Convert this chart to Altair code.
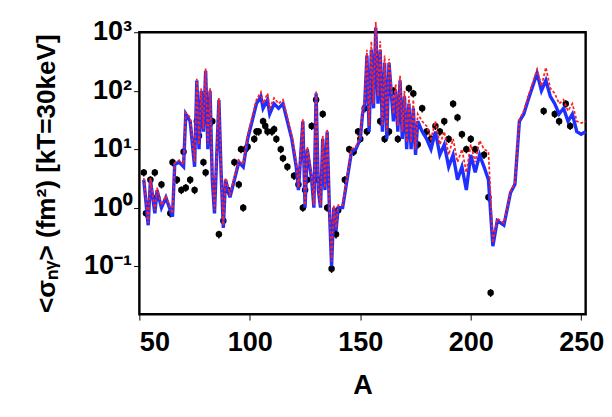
import altair as alt
import pandas as pd

# theory curves (blue solid, red dashed)
blue_A = [52, 54, 55, 57, 58, 60, 62, 65, 66, 68, 70, 71, 73, 75, 76, 77, 78, 79, 80, 81, 82, 83, 84, 86, 87, 88, 89, 91, 93, 95, 97, 99, 101, 103, 105, 106, 108, 109, 111, 113, 115, 117, 119, 121, 122, 124, 125, 126, 128, 129, 130, 131, 132, 133, 134, 135, 136, 137, 138, 139, 140, 142, 144, 146, 148, 150, 151, 152, 153, 154, 155, 156, 157, 158, 159, 160, 161, 162, 163, 165, 166, 167, 168, 169, 170, 171, 172, 173, 174, 175, 176, 178, 180, 182, 184, 186, 188, 190, 192, 194, 196, 198, 200, 202, 204, 206, 208, 210, 212, 215, 218, 220, 222, 224, 226, 230, 232, 234, 236, 238, 240, 242, 244, 246, 248, 250, 252]
blue_v = [3, 0.5, 3, 0.8, 2, 1, 1.5, 0.7, 5.5, 6, 5, 40, 30, 5, 150, 10, 100, 20, 220, 10, 100, 3, 0.8, 70, 4, 0.45, 3, 1.5, 3, 6, 5, 15, 30, 60, 80, 50, 70, 40, 60, 50, 60, 30, 15, 5, 2, 30, 1, 10, 3, 1, 90, 2, 1, 15, 2, 20, 1, 0.1, 1, 0.4, 1, 1, 3, 9, 10, 15, 40, 60, 400, 20, 500, 50, 1200, 60, 500, 20, 300, 15, 300, 30, 100, 20, 150, 15, 80, 10, 60, 10, 50, 8, 30, 20, 15, 10, 20, 8, 12, 5, 8, 3, 5, 2, 8, 4, 8, 5, 3, 0.22, 0.6, 0.5, 1.8, 2.5, 30, 40, 70, 200, 100, 150, 80, 60, 40, 50, 30, 40, 20, 18, 20]
red_v = [3.2, 0.55, 3.2, 0.9, 2.2, 1.1, 1.6, 0.8, 5.8, 6.5, 5.5, 42, 35, 6, 160, 12, 110, 22, 240, 12, 110, 3.5, 0.9, 75, 4.5, 0.5, 3.2, 1.7, 3.3, 6.5, 5.5, 17, 35, 70, 95, 60, 90, 50, 75, 60, 70, 35, 17, 6, 2.2, 33, 1.1, 11, 3.5, 1.1, 100, 2.2, 1.1, 17, 2.2, 22, 1.1, 0.12, 1.1, 0.45, 1.1, 1.1, 3.3, 10, 11, 17, 45, 70, 500, 25, 700, 60, 1500, 80, 700, 25, 400, 20, 350, 40, 130, 25, 180, 20, 100, 13, 80, 13, 70, 10, 40, 30, 25, 15, 30, 12, 20, 8, 15, 6, 10, 4, 12, 6, 14, 10, 9, 0.25, 0.65, 0.55, 1.9, 2.7, 32, 45, 80, 230, 120, 250, 110, 90, 60, 70, 45, 60, 30, 28, 30]

# experimental points
exp_A = [52, 53, 55, 57, 58, 60, 64, 65, 67, 69, 70, 71, 73, 75, 76, 77, 79, 80, 83, 86, 88, 90, 93, 95, 96, 97, 98, 99, 102, 103, 104, 106, 107, 108, 110, 111, 112, 114, 115, 117, 120, 122, 124, 125, 126, 128, 130, 131, 133, 135, 137, 139, 140, 143, 145, 147, 149, 150, 152, 153, 155, 157, 159, 161, 163, 165, 167, 168, 170, 172, 174, 176, 178, 180, 182, 184, 186, 188, 190, 192, 194, 196, 198, 200, 202, 206, 208, 209, 233, 238, 240, 243, 245]
exp_v = [4, 0.8, 3, 4, 1.5, 2.5, 0.8, 6, 3, 2, 9, 2.2, 3, 2, 30, 17, 6, 4, 30, 0.35, 0.6, 2, 6, 2.5, 10, 1, 10, 11, 15, 20, 20, 30, 25, 20, 20, 22, 15, 10, 7, 5, 3.5, 2.5, 1, 2, 3, 25, 70, 3, 40, 1, 0.09, 0.35, 0.9, 3, 10, 9, 20, 15, 50, 20, 100, 150, 30, 15, 20, 100, 15, 50, 30, 110, 90, 12, 50, 20, 15, 25, 20, 30, 15, 60, 35, 18, 10, 15, 10, 8, 1.5, 0.035, 45, 40, 30, 60, 25]

curves = pd.DataFrame({"A": blue_A, "blue": blue_v, "red": red_v})
exp = pd.DataFrame({"A": exp_A, "v": exp_v})
exp["lo"] = exp["v"] * 0.85
exp["hi"] = exp["v"] * 1.15

F = "Liberation Sans"
xs = alt.Scale(domain=[50, 252], nice=False)
ys = alt.Scale(type="log", domain=[0.015, 1000], nice=False)

lab = ("datum.value == 1000 ? '10³' : datum.value == 100 ? '10²' : datum.value == 10 ? '10¹'"
       " : datum.value == 1 ? '10⁰' : datum.value == 0.1 ? '10⁻¹' : ''")

base = alt.Chart(curves).encode(
    x=alt.X("A:Q", scale=xs, title="A",
            axis=alt.Axis(values=[50, 100, 150, 200, 250], grid=False, tickColor="black",
                          domain=False, tickSize=6, labelPadding=10, titlePadding=16)),
)
blue = base.mark_line(color="#1f2fff", strokeWidth=3.5).encode(
    y=alt.Y("blue:Q", scale=ys, title="<σₙᵧ> (fm²) [kT=30keV]",
            axis=alt.Axis(values=[0.1, 1, 10, 100, 1000], labelExpr=lab, grid=False,
                          domain=False, tickSize=6, tickColor="black")))
red = base.mark_line(color="#ff2020", strokeWidth=1.8, strokeDash=[3, 2]).encode(
    y=alt.Y("red:Q", scale=ys))

pts = alt.Chart(exp).mark_point(filled=True, color="black", size=45, opacity=1).encode(
    x=alt.X("A:Q", scale=xs), y=alt.Y("v:Q", scale=ys))
bars = alt.Chart(exp).mark_rule(color="black", strokeWidth=1.5).encode(
    x=alt.X("A:Q", scale=xs), y=alt.Y("lo:Q", scale=ys), y2="hi:Q")

chart = alt.layer(bars, pts, blue, red).properties(
    width=462, height=292, padding={"left": 26, "top": 3, "right": 0, "bottom": 5}
).configure_view(stroke="black", strokeWidth=2.5).configure_axis(
    labelFont=F, titleFont=F, labelFontSize=28, titleFontSize=28,
    labelFontWeight="bold", titleFontWeight="bold", labelColor="black", titleColor="black",
).configure_axisY(titleFontSize=27, titlePadding=24)

chart.save("out.html", embed_options={"renderer": "svg", "actions": False})
